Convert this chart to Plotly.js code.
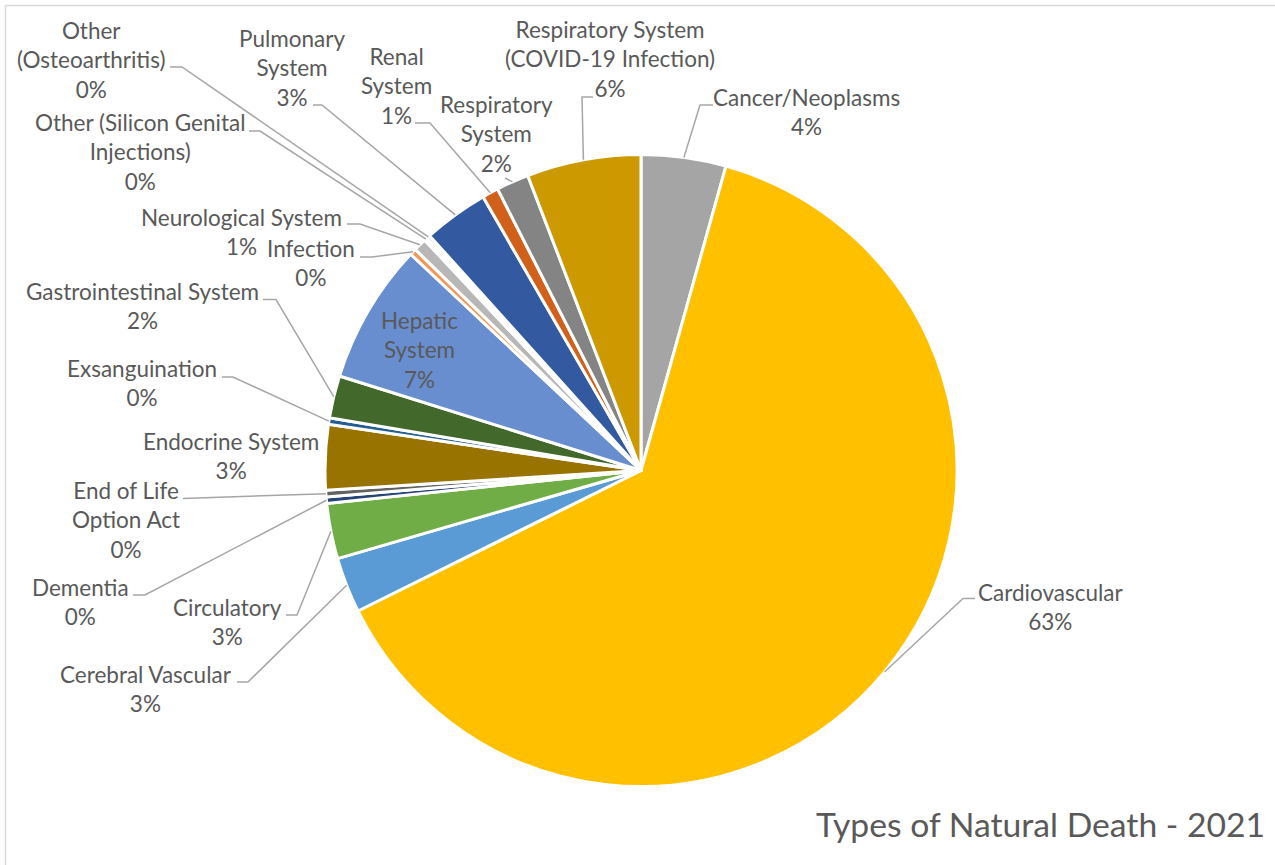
<!DOCTYPE html>
<html>
<head>
<meta charset="utf-8">
<script src="https://cdn.plot.ly/plotly-3.0.1.min.js"></script>
<style>
html,body{margin:0;padding:0;background:#fff;}
#chart{width:1275px;height:865px;}
</style>
</head>
<body>
<div id="chart"></div>
<script>
// ---- Data ----
const categories = [
  "Cancer/Neoplasms", "Cardiovascular", "Cerebral Vascular", "Circulatory",
  "Dementia", "End of Life Option Act", "Endocrine System", "Exsanguination",
  "Gastrointestinal System", "Hepatic System", "Infection", "Neurological System",
  "Other (Silicon Genital Injections)", "Other (Osteoarthritis)", "Pulmonary System",
  "Renal System", "Respiratory System", "Respiratory System (COVID-19 Infection)"
];
const deaths = [26, 380, 17, 17, 2, 2, 20, 2, 13, 43, 2, 4, 1, 1, 20, 5, 10, 35];
const sliceColors = [
  "#A5A5A5", "#FFC000", "#5B9BD5", "#70AD47", "#264478", "#636363", "#997300", "#255E91",
  "#43682B", "#698ED0", "#F1975A", "#B7B7B7", "#FFCD33", "#7CAFDD", "#335AA1",
  "#D0601A", "#848484", "#CC9A00"
];
// label text as shown (line breaks as in the chart)
const labelText = [
  "Cancer/Neoplasms", "Cardiovascular", "Cerebral Vascular", "Circulatory",
  "Dementia", "End of Life<br>Option Act", "Endocrine System", "Exsanguination",
  "Gastrointestinal System", "Hepatic<br>System", "Infection", "Neurological System",
  "Other (Silicon Genital<br>Injections)", "Other<br>(Osteoarthritis)", "Pulmonary<br>System",
  "Renal<br>System", "Respiratory<br>System", "Respiratory System<br>(COVID-19 Infection)"
];
const chartTitle = "Types of Natural Death - 2021";

// ---- Layout (pixel placement of labels / leader lines) ----
const W = 1275, H = 865;
const CX = 641, CY = 470.5, R = 316;
// [labelCenterX, labelCenterY, leaderStartX, leaderStartY, elbowX, elbowY] ; null leader = none
const labelLayout = [
  [806, 111.5, 713, 105, 700, 105],
  [1050, 607, 975, 598.5, 963, 598.5],
  [146, 689, 237, 682, 248, 682],
  [227, 621.5, 286, 615, 297, 615],
  [80, 601.5, 133, 595, 145, 595],
  [126, 519.5, 183, 498.5, null, null],
  [231, 456, null, null, null, null],
  [142, 383, 222, 377, 233, 377],
  [142, 306, 263, 299.5, 276, 299.5],
  [419, 349.5, null, null, null, null],
  [311, 262.5, 360, 257, 372, 257],
  [242, 231.5, 347, 224, 360, 224],
  [140, 152, 249, 131, 260, 131],
  [90.5, 60, 170, 67, 182, 67],
  [292, 68, 313, 105, 322, 105],
  [396, 85.5, 415, 123, 430, 123],
  [496, 133.5, 505, 178, null, null],
  [610, 59.5, 593, 97, 582, 97]
];

const px = x => x / W;
const py = y => 1 - y / H;

const total = deaths.reduce((a, b) => a + b, 0);
const annotations = [];
const shapes = [];
const labelFont = {family: "Lato, 'Open Sans', sans-serif", size: 22.5, color: "#595959"};

let cum = 0;
deaths.forEach((v, i) => {
  const mid = (cum + v / 2) / total * 2 * Math.PI;
  cum += v;
  const pct = Math.round(v / total * 100) + "%";
  const L = labelLayout[i];
  annotations.push({
    xref: "paper", yref: "paper", x: px(L[0]), y: py(L[1]),
    xanchor: "center", yanchor: "middle", showarrow: false,
    text: labelText[i] + "<br>" + pct, font: labelFont, align: "center"
  });
  if (L[2] !== null) {
    const endX = CX + R * Math.sin(mid);
    const endY = CY - R * Math.cos(mid);
    let path = "M" + px(L[2]) + "," + py(L[3]);
    if (L[4] !== null) path += " L" + px(L[4]) + "," + py(L[5]);
    path += " L" + px(endX) + "," + py(endY);
    shapes.push({type: "path", xref: "paper", yref: "paper", path: path,
      line: {color: "#A6A6A6", width: 1.5}});
  }
});

annotations.push({
  xref: "paper", yref: "paper", x: px(1267), y: py(824),
  xanchor: "right", yanchor: "middle", showarrow: false,
  text: chartTitle, font: {family: "Lato, 'Open Sans', sans-serif", size: 33.7, color: "#595959"}
});

// chart-area border (left and top edges visible)
shapes.push({type: "line", xref: "paper", yref: "paper", x0: px(5.5), y0: py(5.5), x1: px(5.5), y1: py(870), line: {color: "#D9D9D9", width: 1.5}});
shapes.push({type: "line", xref: "paper", yref: "paper", x0: px(5.5), y0: py(5.5), x1: px(1280), y1: py(5.5), line: {color: "#D9D9D9", width: 1.5}});

const trace = {
  type: "pie",
  labels: categories,
  values: deaths,
  sort: false,
  direction: "clockwise",
  rotation: 0,
  textinfo: "none",
  hoverinfo: "label+percent",
  marker: {colors: sliceColors, line: {color: "#FFFFFF", width: 3}},
  domain: {x: [px(CX - R), px(CX + R)], y: [py(CY + R), py(CY - R)]},
  showlegend: false
};

const layout = {
  width: W, height: H,
  margin: {l: 0, r: 0, t: 0, b: 0},
  paper_bgcolor: "#FFFFFF",
  showlegend: false,
  annotations: annotations,
  shapes: shapes
};

Plotly.newPlot("chart", [trace], layout, {displayModeBar: false, staticPlot: true});
</script>
</body>
</html>
